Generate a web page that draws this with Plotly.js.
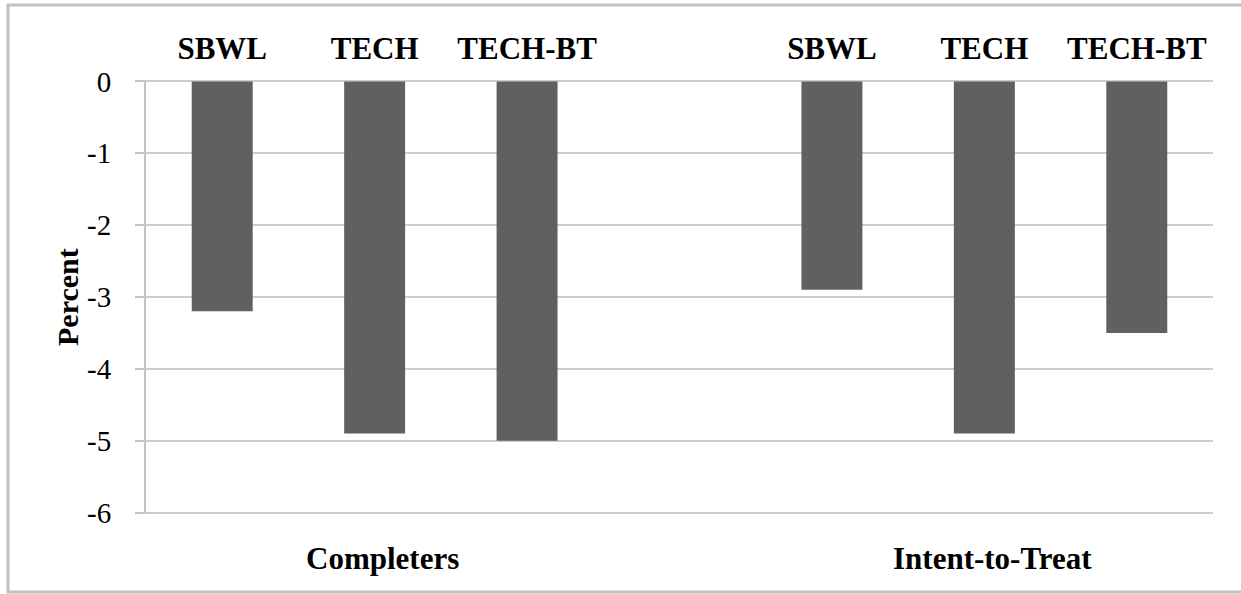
<!DOCTYPE html>
<html>
<head>
<meta charset="utf-8">
<script src="https://cdn.plot.ly/plotly-3.0.1.min.js"></script>
<style>
  html, body { margin: 0; padding: 0; background: #ffffff; }
  #chart { width: 1241px; height: 594px; }
</style>
</head>
<body>
<div id="chart"></div>
<script>
// Data
var groups = ["Completers", "Intent-to-Treat"];
var categories = ["SBWL", "TECH", "TECH-BT", "SBWL", "TECH", "TECH-BT"];
var positions = [0, 1, 2, 4, 5, 6];           // slot 3 is the gap between the groups
var values = [-3.2, -4.9, -5.0, -2.9, -4.9, -3.5];
var groupCenters = [1, 5];
var yTicks = [0, -1, -2, -3, -4, -5, -6];

var serif = "Liberation Serif, Times New Roman, serif";

var trace = {
  type: "bar",
  x: positions,
  y: values,
  width: 0.4,
  marker: { color: "#606060", line: { width: 0 } },
  hoverinfo: "y",
  showlegend: false
};

var annotations = groups.map(function (g, i) {
  return {
    text: "<b>" + g + "</b>",
    x: groupCenters[i], xref: "x",
    y: 0, yref: "paper",
    yanchor: "middle", xanchor: "center",
    yshift: -44, xshift: 8,
    showarrow: false,
    font: { family: serif, size: 31, color: "#000000" }
  };
});
annotations.push({
  text: "<b>Percent</b>",
  textangle: -90,
  x: 0, xref: "paper", xanchor: "center", xshift: -79,
  y: 0.5, yref: "paper", yanchor: "middle",
  yshift: 0,
  showarrow: false,
  font: { family: serif, size: 30, color: "#000000" }
});

var layout = {
  width: 1241,
  height: 594,
  margin: { l: 146, r: 28, t: 80, b: 80 },
  paper_bgcolor: "#ffffff",
  plot_bgcolor: "#ffffff",
  xaxis: {
    side: "top",
    range: [-0.5, 6.5],
    tickmode: "array",
    tickvals: positions,
    ticktext: categories.map(function (c) { return "<b>" + c + "</b>"; }),
    tickfont: { family: serif, size: 31, color: "#000000" },
    ticks: "",
    ticklabelstandoff: 14,
    showgrid: false,
    zeroline: false,
    showline: false,
    fixedrange: true
  },
  yaxis: {
    range: [-6.02, 0.02],
    tickmode: "array",
    tickvals: yTicks,
    ticktext: yTicks.map(String),
    tickfont: { family: serif, size: 29, color: "#000000" },
    ticks: "outside",
    ticklen: 9,
    tickwidth: 2,
    tickcolor: "#c4c4c4",
    ticklabelstandoff: 18,
    showgrid: true,
    gridcolor: "#cdcdcd",
    gridwidth: 2,
    zeroline: false,
    showline: true,
    linecolor: "#c4c4c4",
    linewidth: 2,
    fixedrange: true
  },
  annotations: annotations,
  shapes: [{
    type: "rect",
    xref: "paper", yref: "paper",
    x0: (8 - 146) / 1067, x1: (1250 - 146) / 1067,
    y0: (514 - 592) / 434, y1: (514 - 5) / 434,
    line: { color: "#c0c0c0", width: 3 },
    fillcolor: "rgba(0,0,0,0)",
    layer: "below"
  }],
  bargap: 0.6
};

Plotly.newPlot("chart", [trace], layout, { displayModeBar: false, staticPlot: true });
</script>
</body>
</html>
